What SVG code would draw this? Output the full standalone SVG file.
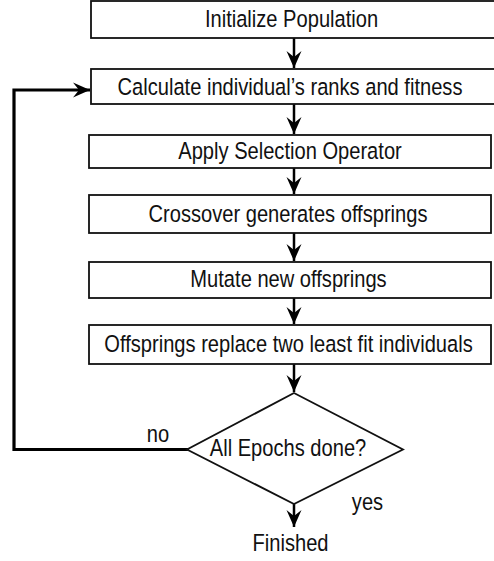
<svg xmlns="http://www.w3.org/2000/svg" width="494" height="561" viewBox="0 0 494 561">
<style>
.box{fill:#fff;stroke:#111;stroke-width:1.8}
.t{font-family:"Liberation Sans",Arial,sans-serif;font-size:23.5px;fill:#111;text-anchor:middle}
.c{fill:none;stroke:#000;stroke-width:2.5}
.loop{fill:none;stroke:#000;stroke-width:3.2}
</style>
<defs>
<marker id="ah" markerUnits="userSpaceOnUse" markerWidth="20" markerHeight="20" viewBox="-18 -9 20 18" refX="0" refY="0" orient="auto">
<path d="M0,0 L-17,-7.5 L-11,0 L-17,7.5 Z" fill="#000"/>
</marker>
</defs>
<rect width="494" height="561" fill="#fff"/>
<g id="connectors">
<line class="c" x1="294" y1="38" x2="294" y2="68" marker-end="url(#ah)"/>
<line class="c" x1="294" y1="104" x2="294" y2="134" marker-end="url(#ah)"/>
<line class="c" x1="294" y1="168" x2="294" y2="194" marker-end="url(#ah)"/>
<line class="c" x1="294" y1="233" x2="294" y2="261" marker-end="url(#ah)"/>
<line class="c" x1="294" y1="298" x2="294" y2="324" marker-end="url(#ah)"/>
<line class="c" x1="294" y1="364" x2="294" y2="392" marker-end="url(#ah)"/>
<line class="c" x1="294" y1="504" x2="294" y2="527" marker-end="url(#ah)"/>
<polyline class="loop" points="188,449.5 14,449.5 14,90 90,90" marker-end="url(#ah)"/>
<text class="t" transform="translate(158,442) scale(0.856,1)">no</text>
<text class="t" transform="translate(367.5,510) scale(0.856,1)">yes</text>
</g>
<g id="n1">
<rect class="box" x="91" y="1" width="410" height="37"/>
<text class="t" transform="translate(291.5,27) scale(0.856,1)">Initialize Population</text>
</g>
<g id="n2">
<rect class="box" x="91" y="69" width="410" height="35"/>
<text class="t" transform="translate(290,94.5) scale(0.856,1)">Calculate individual’s ranks and fitness</text>
</g>
<g id="n3">
<rect class="box" x="89" y="135" width="402" height="33"/>
<text class="t" transform="translate(290,159) scale(0.856,1)">Apply Selection Operator</text>
</g>
<g id="n4">
<rect class="box" x="89" y="195" width="402" height="38"/>
<text class="t" transform="translate(288,222) scale(0.856,1)">Crossover generates offsprings</text>
</g>
<g id="n5">
<rect class="box" x="89" y="262" width="402" height="36"/>
<text class="t" transform="translate(288.5,287) scale(0.856,1)">Mutate new offsprings</text>
</g>
<g id="n6">
<rect class="box" x="89" y="325" width="402" height="39"/>
<text class="t" transform="translate(288.5,352) scale(0.856,1)">Offsprings replace two least fit individuals</text>
</g>
<g id="n7">
<polygon class="box" points="294,393 403,449.5 294,504 187,449.5"/>
<text class="t" transform="translate(288,455.5) scale(0.856,1)">All Epochs done?</text>
</g>
<g id="n8">
<text class="t" transform="translate(290.5,551) scale(0.856,1)">Finished</text>
</g>
</svg>
